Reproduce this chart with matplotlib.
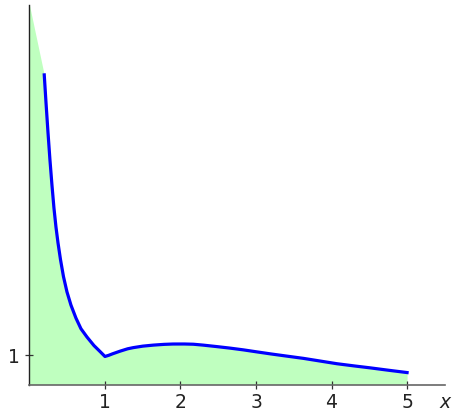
"""Decaying curve with a kink at x = 1 and the shaded area beneath it."""

import matplotlib

matplotlib.use("Agg")
import matplotlib.pyplot as plt

# curve values
curve_x = [0.196, 0.2185, 0.245, 0.2715, 0.298, 0.3245, 0.351, 0.3775,
           0.4106, 0.4503, 0.4967, 0.5497, 0.6159, 0.6821, 0.7616, 0.8543,
           0.9338, 1.0, 1.05, 1.1, 1.2, 1.3, 1.375, 1.5, 1.64, 1.78, 1.9,
           2.05, 2.17, 2.3, 2.48, 2.65, 2.83, 3.0, 3.2, 3.4, 3.63, 3.85, 4.07,
           4.3, 4.51, 4.75, 5.0]
curve_y = [10.49, 9.58, 8.56, 7.61, 6.76, 5.98, 5.34, 4.81,
           4.24, 3.66, 3.14, 2.69, 2.25, 1.89, 1.61, 1.32,
           1.12, 0.95, 0.99, 1.04, 1.13, 1.21, 1.25, 1.3, 1.335, 1.36, 1.372,
           1.373, 1.365, 1.335, 1.285, 1.235, 1.175, 1.11, 1.035, 0.965, 0.885,
           0.795, 0.705, 0.63, 0.565, 0.485, 0.405]

# shaded region starts at the y axis, higher than the curve's first point
fill_start_x = 0.0
fill_start_y = 12.86

x_ticks = [1, 2, 3, 4, 5]
y_ticks = [1]


def main() -> None:
    fig = plt.figure(figsize=(4.53, 4.12), dpi=100)
    ax = fig.add_axes([0.065, 0.0667, 0.917, 0.9213])

    fill_x = [fill_start_x] + curve_x
    fill_y = [fill_start_y] + curve_y
    ax.fill_between(fill_x, 0, fill_y, color="#bfffbf", linewidth=0, zorder=1)
    ax.plot(curve_x, curve_y, color="#0000ff", linewidth=2.3, zorder=3,
            solid_joinstyle="round")

    ax.set_xlim(0, 5.5)
    ax.set_ylim(0, 12.86)

    for side in ("top", "right"):
        ax.spines[side].set_visible(False)
    ax.spines["left"].set_color("#222222")
    ax.spines["bottom"].set_color("#666666")
    ax.spines["left"].set_linewidth(1.0)
    ax.spines["bottom"].set_linewidth(1.2)

    ax.set_xticks(x_ticks)
    ax.set_yticks(y_ticks)
    ax.tick_params(direction="inout", length=6, width=0.9, colors="#333333",
                   labelsize=13.5, labelcolor="#222222")
    ax.tick_params(axis="x", pad=3)
    ax.tick_params(axis="y", pad=4)

    ax.annotate("x", xy=(1, 0), xycoords="axes fraction", xytext=(0, -6),
                textcoords="offset points", ha="center", va="top",
                fontsize=13.5, style="italic", color="#222222")

    fig.savefig("out.png", dpi=100)


if __name__ == "__main__":
    main()
